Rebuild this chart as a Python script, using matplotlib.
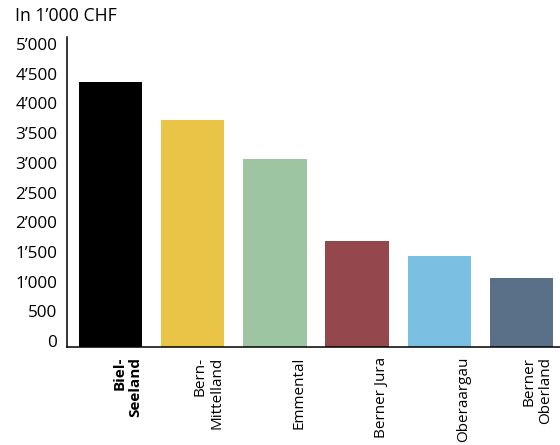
import numpy as np
import matplotlib.pyplot as plt

plt.rcParams['font.family'] = ['Open Sans', 'DejaVu Sans']

# Data (in 1'000 CHF)
regions = ['Biel-\nSeeland', 'Bern-\nMittelland', 'Emmental', 'Berner Jura',
           'Oberaargau', 'Berner\nOberland']
values = [4460, 3820, 3170, 1785, 1530, 1160]
colors = ['#000000', '#E9C446', '#9DC5A1', '#94474D', '#7BC0E2', '#5A7088']
yticks = [0, 500, 1000, 1500, 2000, 2500, 3000, 3500, 4000, 4500, 5000]

def fmt(v):
    return '{:,}'.format(v).replace(',', '\u2019')

fig = plt.figure(figsize=(5.6, 4.45), dpi=100)
ax = fig.add_axes([67/560, 98/445, 493/560, 310/445])

x = np.arange(len(regions))
w = 0.77
ax.bar(x, values, width=w, color=colors)

ax.set_xlim(-0.525, 5.465)
ax.set_ylim(0, 5220)

for s in ['top', 'right']:
    ax.spines[s].set_visible(False)
for s in ['left', 'bottom']:
    ax.spines[s].set_linewidth(1.1)

ax.set_xticks([])
ax.set_yticks(yticks)
ax.set_yticklabels([fmt(v) for v in yticks], fontsize=12.3)
ax.tick_params(axis='y', length=0, pad=7)
for lab in ax.get_yticklabels():
    lab.set_va('baseline')

# category labels, rotated, right edge on the bar's right edge
for i, name in enumerate(regions):
    ax.annotate(name, xy=(x[i] + w/2, 0), xycoords=('data', 'axes fraction'),
                xytext=(0, -7), textcoords='offset points',
                rotation=90, ha='right', va='top', multialignment='right',
                fontsize=11, linespacing=1.15,
                fontweight='bold' if i == 0 else 'normal')

fig.text(15/560, 1 - 16/445, 'In 1\u2019000 CHF', fontsize=12.7, ha='left', va='center')

fig.savefig('out.png', dpi=100)
